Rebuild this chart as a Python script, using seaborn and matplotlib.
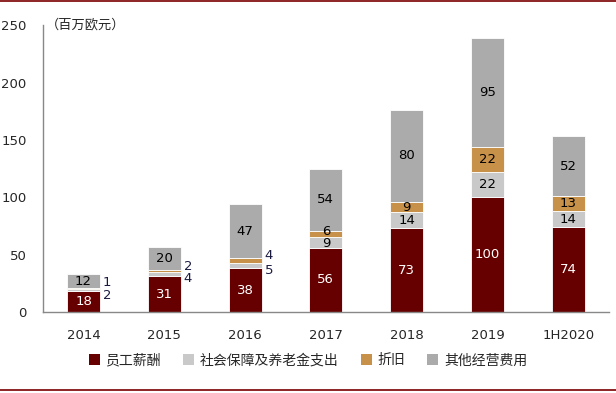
import seaborn as sns
import numpy as np
import pandas as pd
import matplotlib.pyplot as plt
from matplotlib.lines import Line2D
from matplotlib.patches import Patch

years = ['2014', '2015', '2016', '2017', '2018', '2019', '1H2020']
salary = [18, 31, 38, 56, 73, 100, 74]
social = [2, 4, 5, 9, 14, 22, 14]
deprec = [1, 2, 4, 6, 9, 22, 13]
other = [12, 20, 47, 54, 80, 95, 52]

series_names = ['员工薪酬', '社会保障及养老金支出', '折旧', '其他经营费用']
colors = ['#660000', '#C9C9C9', '#C8914A', '#ABABAB']

sns.set_style('white')
plt.rcParams['font.family'] = ['DejaVu Sans', 'Noto Sans CJK SC']

df = pd.DataFrame({'year': years, 'salary': salary, 'social': social,
                   'deprec': deprec, 'other': other})
cols = ['salary', 'social', 'deprec', 'other']

f, ax = plt.subplots(figsize=(6.16, 3.93), dpi=100)
f.subplots_adjust(left=0.07, right=0.988, bottom=0.206, top=0.936)

# nudges for the cramped small-segment labels (in data units)
nudge = {('social', 0): -5, ('deprec', 0): 5,
         ('social', 1): -4, ('deprec', 1): 4,
         ('social', 2): -4, ('deprec', 2): 4,
         ('social', 3): -1, ('deprec', 3): 2}

bottom = np.zeros(len(years))
for c, col in zip(cols, colors):
    sns.barplot(data=df, x='year', y=c, ax=ax, color=col, bottom=bottom,
                width=0.41, edgecolor='white', linewidth=0.6, saturation=1)
    vals = df[c].values
    for i in range(len(years)):
        center = bottom[i] + vals[i] / 2 + nudge.get((c, i), 0)
        tcol = 'white' if c == 'salary' else 'black'
        if c in ('social', 'deprec') and i < 3:
            # small segments labelled outside the bar
            ax.text(i + 0.24, center, str(vals[i]), ha='left', va='center',
                    fontsize=9.5, color='#1a1a40')
        else:
            ax.text(i, center, str(vals[i]), ha='center', va='center',
                    fontsize=9.5, color=tcol)
    bottom = bottom + vals

ax.set_xlim(-0.5, len(years) - 0.5)
ax.set_ylim(0, 250)
ax.set_yticks([0, 50, 100, 150, 200, 250])
ax.set_xlabel('')
ax.set_ylabel('')

ax.set_xticks(range(len(years)))
ax.set_xticklabels(years, fontsize=9.5)
ax.set_xticks(np.arange(-0.5, len(years)), minor=True)
ax.tick_params(axis='x', which='major', length=0, pad=12)
ax.tick_params(axis='x', which='minor', length=4, direction='out', color='#888888')
ax.tick_params(axis='y', length=3, direction='in', color='#888888', labelsize=9.5, pad=12)

for s in ['top', 'right']:
    ax.spines[s].set_visible(False)
for s in ['left', 'bottom']:
    ax.spines[s].set_color('#888888')
    ax.spines[s].set_linewidth(1)

ax.text(0.005, 250, '（百万欧元）', fontsize=9.5, va='center', ha='left',
        transform=ax.get_yaxis_transform(), family=['Noto Sans CJK SC'])

handles = [Patch(facecolor=c, edgecolor='none') for c in colors]
f.legend(handles, series_names, loc='center', bbox_to_anchor=(0.5, 0.083),
         ncols=4, frameon=False, handlelength=0.8, handleheight=0.8,
         handletextpad=0.4, columnspacing=1.6, prop={'family': ['Noto Sans CJK SC'], 'size': 10})

f.add_artist(Line2D([0, 1], [0.997, 0.997], color='#7A0000', lw=1.2, transform=f.transFigure))
f.add_artist(Line2D([0, 1], [0.008, 0.008], color='#7A0000', lw=1.2, transform=f.transFigure))

plt.savefig('out.png', dpi=100)
